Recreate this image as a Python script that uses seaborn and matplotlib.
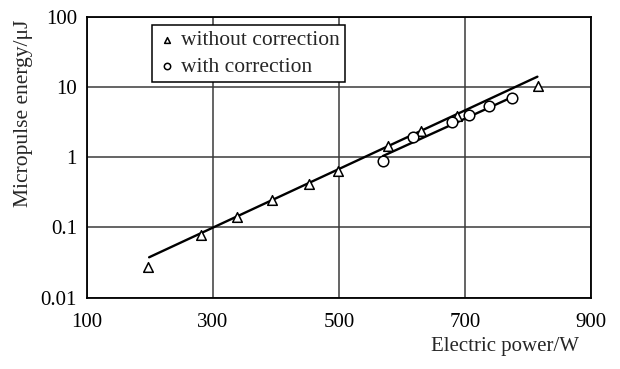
import numpy as np
import pandas as pd
import matplotlib
matplotlib.use("Agg")
import matplotlib.pyplot as plt
import seaborn as sns

# Measured micropulse energy versus electric power
power_without = [197, 281, 338, 394, 452, 498, 578, 631, 688, 816]
energy_without = [0.0276, 0.078, 0.142, 0.246, 0.416, 0.637, 1.43, 2.38, 3.9, 10.4]

power_with = [570, 617, 680, 707, 738, 774]
energy_with = [0.89, 1.94, 3.2, 4.03, 5.41, 6.9]

# Exponential fit lines (end points)
fit_without_power = [199, 815]
fit_without_energy = [0.0376, 14.0]
fit_with_power = [570, 774]
fit_with_energy = [1.04, 7.1]

x_ticks = [100, 300, 500, 700, 900]
y_ticks = [0.01, 0.1, 1, 10, 100]
y_tick_labels = ["0.01", "0.1", "1", "10", "100"]

sns.set_style("white")
plt.rcParams["font.family"] = ["Liberation Serif", "DejaVu Serif"]

fig = plt.figure(figsize=(6.2, 3.69), dpi=100)
ax = fig.add_axes([86.7 / 620, 1 - 297.7 / 369, 504.3 / 620, 281 / 369])

df_without = pd.DataFrame({"power": power_without, "energy": energy_without})
df_with = pd.DataFrame({"power": power_with, "energy": energy_with})
fit1 = pd.DataFrame({"power": fit_without_power, "energy": fit_without_energy})
fit2 = pd.DataFrame({"power": fit_with_power, "energy": fit_with_energy})

ax.set_yscale("log")
ax.set_xlim(100, 900)
ax.set_ylim(0.01, 100)

sns.lineplot(data=fit1, x="power", y="energy", ax=ax, color="black",
             linewidth=1.7, zorder=3, legend=False)
sns.lineplot(data=fit2, x="power", y="energy", ax=ax, color="black",
             linewidth=1.7, zorder=3, legend=False)
sns.scatterplot(data=df_without, x="power", y="energy", ax=ax, marker="^",
                s=48, facecolor="white", edgecolor="black", linewidth=1.1,
                zorder=4, label="without correction")
sns.scatterplot(data=df_with, x="power", y="energy", ax=ax, marker="o",
                s=58, facecolor="white", edgecolor="black", linewidth=1.1,
                zorder=4, label="with correction")

ax.set_xticks(x_ticks)
ax.set_xticklabels([str(v) for v in x_ticks])
ax.set_yticks(y_ticks)
ax.set_yticklabels(y_tick_labels)
ax.minorticks_off()
ax.tick_params(axis="both", length=0, labelsize=15, colors="black")
ax.tick_params(axis="x", pad=11)
ax.tick_params(axis="y", pad=7)

ax.grid(True, which="major", color="#3a3a3a", linewidth=1.1)
ax.set_axisbelow(True)
for sp in ax.spines.values():
    sp.set_color("black")
    sp.set_linewidth(1.3)

ax.set_xlabel("")
ax.set_ylabel("")
fig.text(24 / 620, 1 - 113 / 369, "Micropulse energy/μJ", rotation=90,
         ha="center", va="center", fontsize=15.5)
fig.text(579 / 620, 1 - 346 / 369, "Electric power/W", ha="right",
         va="center", fontsize=15)

leg = ax.legend(loc="upper left", bbox_to_anchor=((152 - 86.7) / 504.3, 1 - (24.7 - 16.7) / 281),
                frameon=True, fancybox=False, fontsize=15.5, markerscale=0.6,
                handletextpad=0.2, handlelength=0.9, borderpad=0.25,
                labelspacing=0.3, borderaxespad=0)
leg.get_frame().set_edgecolor("black")
leg.get_frame().set_linewidth(1.1)
leg.get_frame().set_alpha(1)

fig.savefig("out.png", dpi=100)
